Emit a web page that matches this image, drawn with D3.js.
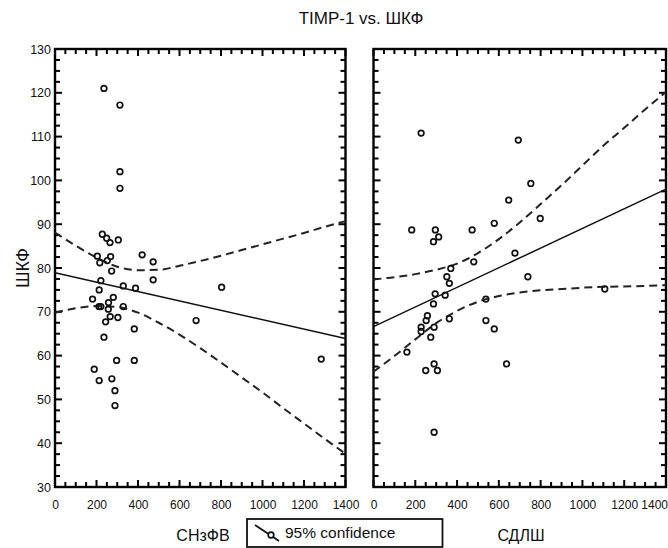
<!DOCTYPE html>
<html>
<head>
<meta charset="utf-8">
<script src="https://cdn.jsdelivr.net/npm/d3@7"></script>
<style>
  body { margin: 0; background: #fff; }
  svg { display: block; font-family: "Liberation Sans", Arial, sans-serif; }
</style>
</head>
<body>
<div id="wrapper"></div>
<script>
// values

// TIMP-1 vs ШКФ, left panel (СНзФВ)
const leftX = [236, 313, 313, 313, 228, 249, 265, 305, 204, 216, 268, 252, 273, 420,
    473, 473, 221, 329, 388, 803, 181, 213, 212, 221, 258, 281, 257, 329, 266, 244,
    303, 382, 680, 236, 297, 382, 1283, 189, 213, 274, 289, 289];
const leftY = [121, 117.2, 102, 98.2, 87.7, 86.8, 85.8, 86.4, 82.7, 81.2, 82.6, 81.7, 79.3, 83,
    81.4, 77.3, 77.1, 75.9, 75.4, 75.6, 72.9, 75, 71.2, 71.2, 72.1, 73.3, 70.6, 71.2, 68.9, 67.7,
    68.7, 66.1, 68, 64.2, 58.9, 58.9, 59.2, 56.9, 54.3, 54.7, 52, 48.6];

// right panel (СДЛШ)
const rightX = [228, 693, 753, 647, 578, 798, 183, 296, 472, 312, 287, 677, 480, 370,
    351, 739, 363, 1107, 295, 343, 287, 538, 258, 252, 363, 538, 578, 228, 228, 290,
    274, 160, 290, 637, 250, 306, 290];
const rightY = [110.8, 109.2, 99.3, 95.5, 90.2, 91.3, 88.7, 88.7, 88.7, 87.1, 86, 83.4, 81.4, 79.9,
    78, 78, 76.5, 75.2, 74.1, 73.8, 71.8, 72.9, 69.1, 68, 68.4, 68, 66.1, 66.5, 65.5, 66.5,
    64.2, 60.8, 58.1, 58.1, 56.6, 56.6, 42.5];

// regression lines and 95% confidence bands
const fitX = [0, 1400];
const leftFit = [78.9, 63.9];
const rightFit = [66.6, 98.0];

const bandX = [0, 100, 200, 300, 400, 500, 600, 700, 800, 900, 1000, 1100, 1200, 1300, 1400];
const leftUpper = [88.1, 85.1, 82.4, 80.3, 79.5, 79.6, 80.5, 81.6, 82.8, 84.1, 85.4, 86.7, 88.0, 89.4, 90.7];
const leftLower = [69.8, 70.8, 71.3, 71.1, 69.8, 67.5, 64.8, 61.7, 58.4, 55.0, 51.6, 48.0, 44.5, 41.0, 37.6];
const rightUpper = [77.4, 77.9, 78.6, 79.6, 81.0, 83.4, 86.6, 90.4, 94.6, 98.9, 103.4, 107.9, 112.0, 116.2, 120.2];
const rightLower = [56.3, 59.9, 63.7, 67.4, 70.2, 72.3, 73.6, 74.4, 74.9, 75.2, 75.5, 75.7, 75.8, 75.9, 76.1];

const xTicks = [0, 200, 400, 600, 800, 1000, 1200, 1400];
const yTicks = [30, 40, 50, 60, 70, 80, 90, 100, 110, 120, 130];

function drawChart() {
    const dimensions = {
        width: 668,
        height: 548,
        top: 49,
        bottom: 487
    };

    const panels = [
        { left: 55, right: 345.5, xs: leftX, ys: leftY, fit: leftFit,
          upper: leftUpper, lower: leftLower, yLabels: true, label: "СНзФВ", labelX: 203 },
        { left: 373.5, right: 666, xs: rightX, ys: rightY, fit: rightFit,
          upper: rightUpper, lower: rightLower, yLabels: false, label: "СДЛШ", labelX: 521 }
    ];

    const svg = d3.select("#wrapper")
        .append("svg")
        .attr("width", dimensions.width)
        .attr("height", dimensions.height);

    svg.append("rect")
        .attr("width", dimensions.width)
        .attr("height", dimensions.height)
        .attr("fill", "#fff");

    const yScale = d3.scaleLinear()
        .domain([30, 130])
        .range([dimensions.bottom, dimensions.top]);

    const minorX = d3.range(0, 1401, 50);
    const minorY = d3.range(30, 130.1, 2.5);
    const isMajorX = v => v % 200 === 0;
    const isMajorY = v => v % 10 === 0;

    panels.forEach((p, pi) => {
        const xScale = d3.scaleLinear()
            .domain([0, 1400])
            .range([p.left, p.right]);

        const g = svg.append("g");

        // frame
        g.append("rect")
            .attr("x", p.left)
            .attr("y", dimensions.top)
            .attr("width", p.right - p.left)
            .attr("height", dimensions.bottom - dimensions.top)
            .attr("fill", "none")
            .attr("stroke", "#000")
            .attr("stroke-width", 2.4);

        // ticks, pointing inward on all four sides
        const ticks = g.append("g")
            .attr("stroke", "#000")
            .attr("stroke-width", 2);

        [dimensions.top, dimensions.bottom].forEach((yEdge, k) => {
            const dir = k === 0 ? 1 : -1;
            ticks.append("g").selectAll("line")
                .data(minorX)
                .join("line")
                .attr("x1", d => xScale(d))
                .attr("x2", d => xScale(d))
                .attr("y1", yEdge)
                .attr("y2", d => yEdge + dir * (isMajorX(d) ? 7 : 5));
        });
        [p.left, p.right].forEach((xEdge, k) => {
            const dir = k === 0 ? 1 : -1;
            ticks.append("g").selectAll("line")
                .data(minorY)
                .join("line")
                .attr("y1", d => yScale(d))
                .attr("y2", d => yScale(d))
                .attr("x1", xEdge)
                .attr("x2", d => xEdge + dir * (isMajorY(d) ? 7 : 5));
        });

        // tick labels
        const xAxis = g.append("g")
            .attr("transform", `translate(0,${dimensions.bottom})`)
            .call(d3.axisBottom(xScale).tickValues(xTicks).tickSize(0)
                .tickPadding(13).tickFormat(d3.format("d")));
        xAxis.select(".domain").remove();
        xAxis.selectAll("text")
            .attr("fill", "#111")
            .style("font-size", "12px");
        if (pi === 1) {
            // last label sits against the right edge
            xAxis.selectAll(".tick")
                .filter(d => d === 1400)
                .select("text")
                .attr("text-anchor", "end")
                .attr("dx", 1.5);
        }

        if (p.yLabels) {
            const yAxis = g.append("g")
                .attr("transform", `translate(${p.left},0)`)
                .call(d3.axisLeft(yScale).tickValues(yTicks).tickSize(0)
                    .tickPadding(4).tickFormat(d3.format("d")));
            yAxis.select(".domain").remove();
            yAxis.selectAll("text")
                .attr("fill", "#111")
                .style("font-size", "12.5px");
        }

        // confidence bands
        const bandLine = d3.line()
            .x((d, i) => xScale(bandX[i]))
            .y(d => yScale(d))
            .curve(d3.curveMonotoneX);

        [p.upper, p.lower].forEach(band => {
            g.append("path")
                .datum(band)
                .attr("d", bandLine)
                .attr("fill", "none")
                .attr("stroke", "#222")
                .attr("stroke-width", 2)
                .attr("stroke-dasharray", "8,5");
        });

        // regression line
        g.append("path")
            .datum(p.fit)
            .attr("d", d3.line()
                .x((d, i) => xScale(fitX[i]))
                .y(d => yScale(d)))
            .attr("fill", "none")
            .attr("stroke", "#111")
            .attr("stroke-width", 1.5);

        // points
        g.selectAll("circle")
            .data(p.xs)
            .join("circle")
            .attr("cx", d => xScale(d))
            .attr("cy", (d, i) => yScale(p.ys[i]))
            .attr("r", 2.8)
            .attr("fill", "none")
            .attr("stroke", "#111")
            .attr("stroke-width", 1.7);

        // x axis label
        svg.append("text")
            .attr("x", p.labelX)
            .attr("y", 541)
            .attr("text-anchor", "middle")
            .attr("fill", "#111")
            .style("font-size", "16px")
            .text(p.label);
    });

    // title
    svg.append("text")
        .attr("x", 361)
        .attr("y", 24)
        .attr("text-anchor", "middle")
        .attr("fill", "#111")
        .style("font-size", "17px")
        .text("TIMP-1 vs. ШКФ");

    // y axis label
    svg.append("text")
        .attr("transform", "translate(29,268) rotate(-90)")
        .attr("text-anchor", "middle")
        .attr("fill", "#111")
        .style("font-size", "18px")
        .text("ШКФ");

    // legend
    const legend = svg.append("g");
    legend.append("rect")
        .attr("x", 247)
        .attr("y", 519)
        .attr("width", 195.5)
        .attr("height", 28)
        .attr("fill", "#fff")
        .attr("stroke", "#111")
        .attr("stroke-width", 1.8);
    legend.append("line")
        .attr("x1", 255).attr("y1", 525)
        .attr("x2", 279).attr("y2", 541)
        .attr("stroke", "#111")
        .attr("stroke-width", 1.8);
    legend.append("circle")
        .attr("cx", 271)
        .attr("cy", 535)
        .attr("r", 2.8)
        .attr("fill", "#fff")
        .attr("stroke", "#111")
        .attr("stroke-width", 1.7);
    legend.append("text")
        .attr("x", 285)
        .attr("y", 538)
        .attr("fill", "#111")
        .style("font-size", "15.5px")
        .text("95% confidence");
}

drawChart();
</script>
</body>
</html>
